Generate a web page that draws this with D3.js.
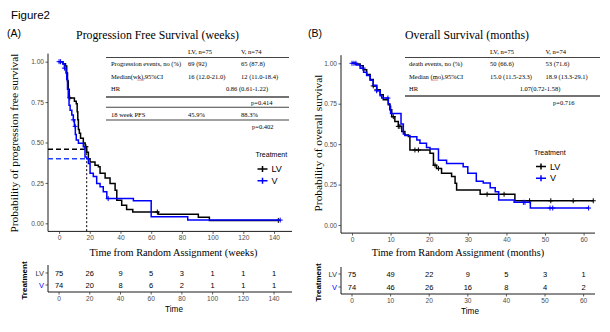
<!DOCTYPE html>
<html><head><meta charset="utf-8">
<script src="https://cdn.jsdelivr.net/npm/d3@7"></script>
<style>body{margin:0;background:#fff} svg{display:block}</style>
</head><body><svg id="c" width="610" height="332"></svg>
<script>
// ---------- DATA ----------
const pfsTicks = [0,20,40,60,80,100,120,140];
const osTicks = [0,10,20,30,40,50,60];
const survTicks = [0,0.25,0.5,0.75,1];
const groups = ["LV","V"];
const groupColors = ["#000000","#0000ff"];

// PFS Kaplan-Meier steps [weeks, survival]
const pfsLV = [[0,1],[2.5,0.987],[4.2,0.973],[5,0.93],[5.5,0.88],[6,0.83],[6.6,0.776],[10,0.755],[11.2,0.74],[11.8,0.69],[12.2,0.64],[12.6,0.58],[13.2,0.557],[14,0.527],[15.8,0.497],[17,0.474],[18,0.44],[19.1,0.40],[20.2,0.38],[23.4,0.36],[25.6,0.35],[26.7,0.31],[30,0.28],[33.2,0.246],[36.5,0.205],[37.6,0.143],[40.8,0.112],[44,0.085],[48,0.07],[64.6,0.056],[90.7,0.037],[97.9,0.018]];
const pfsLVEnd = 142.8;
const pfsV = [[0,1],[2.5,0.986],[3.5,0.96],[4.5,0.93],[5,0.89],[5.5,0.83],[6,0.78],[6.5,0.73],[7.2,0.70],[8.3,0.67],[9.3,0.64],[10,0.6],[10.6,0.55],[11.2,0.515],[12.6,0.495],[15.8,0.474],[16.9,0.41],[18,0.40],[19.1,0.37],[20.2,0.31],[22.3,0.29],[24.5,0.246],[26.7,0.226],[28.8,0.195],[31.1,0.153],[48.4,0.14],[60,0.04],[83.8,0.02]];
const pfsVEnd = 144;
const pfsLVCensor = [7, 17.5, 64, 142.8];
const pfsVCensor = [0, 1, 3.5, 9.3, 10.5, 32, 144];

// OS Kaplan-Meier steps [months, survival]
const osLV = [[0,1],[0.8,0.995],[2.1,0.985],[2.9,0.96],[3.8,0.93],[4.7,0.90],[5.5,0.86],[6.4,0.836],[7.3,0.805],[8.1,0.774],[9.4,0.743],[9.8,0.712],[10.3,0.67],[11.1,0.64],[12,0.61],[12.9,0.578],[13.7,0.557],[14.6,0.547],[15,0.464],[20.2,0.444],[21.1,0.37],[21.9,0.35],[23.2,0.32],[25.8,0.30],[26.7,0.258],[27.1,0.217],[33.2,0.19],[42.2,0.15]];
const osLVEnd = 62.5;
const osV = [[0,1],[1.2,0.99],[2.1,0.97],[3,0.945],[3.8,0.925],[4.7,0.895],[5.5,0.864],[6.4,0.83],[7.3,0.80],[7.7,0.785],[9.4,0.75],[9.8,0.735],[10,0.69],[12.7,0.625],[13.3,0.563],[13.7,0.553],[15,0.545],[16.8,0.525],[17.6,0.505],[19.3,0.48],[20.2,0.47],[22.4,0.40],[24.5,0.38],[28.8,0.36],[30,0.32],[32.2,0.27],[34,0.26],[35.8,0.23],[37.1,0.205],[38,0.155],[42,0.14],[46.2,0.105]];
const osVEnd = 61.3;
const osLVCensor = [5.5, 6.4, 10.7, 12, 12.4, 16.3, 17.2, 21.5, 22.4, 35, 39.4, 46, 51.5, 57.3, 62.5];
const osVCensor = [0, 0.5, 1, 2.9, 6.4, 9.3, 44.4, 44.8, 51.3, 52, 61.3];

// numbers at risk
const riskPfsLV = [75,26,9,5,3,1,1,1];
const riskPfsV = [74,20,8,6,2,1,1,1];
const riskOsLV = [75,49,22,9,5,3,1];
const riskOsV = [74,46,26,16,8,4,2];

// 18-week landmark
const landmarkWeek = 18;
const landmarkLV = 0.459;
const landmarkV = 0.40;

// tables
const tableHeader = ["LV, n=75","V, n=74"];
const pfsRows = [["Progression events, no (%)","69 (92)","65 (87.8)"],["Median(wk),95%CI","16 (12.0-21.0)","12 (11.0-18.4)"]];
const pfsHR = ["HR","0.86 (0.61-1.22)"];
const pfsP1 = "p=0.414";
const pfs18 = ["18 week PFS","45.9%","88.3%"];
const pfsP2 = "p=0.402";
const osRows = [["death events, no (%)","50 (66.6)","53 (71.6)"],["Median (mo),95%CI","15.0 (11.5-23.3)","18.9 (13.3-29.1)"]];
const osHR = ["HR","1.07(0.72-1.58)"];
const osP = "p=0.716";

// ---------- DRAW ----------
const svg = d3.select("#c");
const SERIF = "'Liberation Serif','Times New Roman',serif";
const SANS = "'Liberation Sans',Arial,sans-serif";
const fmt = d3.format(".2f");

function stepAt(data,t){let s=data[0][1];for(const d of data){if(d[0]<=t)s=d[1];else break;}return s;}

function txt(x,y,s,o={}){
  return svg.append("text").attr("x",x).attr("y",y).attr("dy","0.35em")
    .attr("font-family",o.ff||SANS).attr("font-size",o.fs||8)
    .attr("fill",o.fill||"#000").attr("text-anchor",o.anchor||"start")
    .attr("font-weight",o.fw||"normal").text(s);
}

svg.append("rect").attr("width",610).attr("height",332).attr("fill","#fff");
txt(11,15,"Figure2",{fs:11.5});

function panel(cfg){
  const x = d3.scaleLinear().domain(cfg.xdom).range(cfg.xr);
  const y = d3.scaleLinear().domain([-0.05,1.05]).range(cfg.yr);
  txt(cfg.labelX,33,cfg.label,{fs:10.5});
  txt(cfg.titleX,34.5,cfg.title,{ff:SERIF,fs:11.8,anchor:"middle"});
  // y axis
  const ya = svg.append("g").attr("transform",`translate(${cfg.xr[0]},0)`)
    .call(d3.axisLeft(y).tickValues(survTicks).tickFormat(fmt).tickSize(2.5).tickPadding(1.5));
  ya.select(".domain").attr("stroke","#000").attr("stroke-width",0.9).attr("d",`M0,${cfg.yr[0]}V${cfg.yr[1]}`);
  ya.selectAll(".tick line").attr("stroke","#333").attr("stroke-width",0.8);
  ya.selectAll("text").attr("font-family",SANS).attr("font-size",6.6).attr("fill","#4d4d4d");
  const xa = svg.append("g").attr("transform",`translate(0,${cfg.yr[0]})`)
    .call(d3.axisBottom(x).tickValues(cfg.ticks).tickSize(2.5).tickPadding(1.5));
  xa.select(".domain").attr("stroke","#000").attr("stroke-width",0.9).attr("d",`M${cfg.xr[0]},0H${cfg.xr[1]}`);
  xa.selectAll(".tick line").attr("stroke","#333").attr("stroke-width",0.8);
  xa.selectAll("text").attr("font-family",SANS).attr("font-size",6.6).attr("fill","#4d4d4d");
  // axis titles
  svg.append("text").attr("transform",`translate(${cfg.ylabX},${cfg.ylabY}) rotate(-90)`)
    .attr("text-anchor","middle").attr("dy","0.35em").attr("font-family",SERIF).attr("font-size",11.4).text(cfg.ylab);
  txt(cfg.xlabX,252,cfg.xlab,{ff:SERIF,fs:10.3,anchor:"middle"});

  if(cfg.landmark){
    const L = cfg.landmark;
    svg.append("line").attr("x1",cfg.xr[0]).attr("x2",x(L.t)).attr("y1",y(L.lv)).attr("y2",y(L.lv))
      .attr("stroke","#000").attr("stroke-width",1.5).attr("stroke-dasharray","5,3");
    svg.append("line").attr("x1",cfg.xr[0]).attr("x2",x(L.t)).attr("y1",y(L.v)).attr("y2",y(L.v))
      .attr("stroke","#1f3fff").attr("stroke-width",1.5).attr("stroke-dasharray","5,3");
    svg.append("line").attr("x1",x(L.t)).attr("x2",x(L.t)).attr("y1",y(L.lv)).attr("y2",cfg.yr[0])
      .attr("stroke","#000").attr("stroke-width",1).attr("stroke-dasharray","2,2");
  }

  const line = d3.line().x(d=>x(d[0])).y(d=>y(d[1])).curve(d3.curveStepAfter);
  cfg.series.forEach((s,i)=>{
    const pts = s.data.concat([[s.end, s.data[s.data.length-1][1]]]);
    svg.append("path").attr("d",line(pts)).attr("fill","none").attr("stroke",groupColors[i]).attr("stroke-width",1.5);
    s.censor.forEach(t=>{
      const cx=x(t), cy=y(stepAt(s.data,t));
      svg.append("path").attr("d",`M${cx-2.5},${cy}H${cx+2.5}M${cx},${cy-2.5}V${cy+2.5}`)
        .attr("stroke",groupColors[i]).attr("stroke-width",1);
    });
  });

  // legend
  txt(cfg.legX,cfg.legY,"Treatment",{fs:7});
  groups.forEach((g,i)=>{
    const ly = cfg.legY + 14 + i*11.7;
    const lx = cfg.legX + 2;
    svg.append("path").attr("d",`M${lx},${ly}H${lx+10}M${lx+5},${ly-3}V${ly+3}M${lx},${ly}`)
      .attr("stroke",groupColors[i]).attr("stroke-width",1.5);
    txt(lx+14,ly,g,{fs:9});
  });

  // risk table
  const r = cfg.risk;
  const rg = svg.append("g");
  rg.append("path").attr("d",`M${cfg.xr[0]},${r.top}V${r.base}H${cfg.xr[1]}`).attr("fill","none").attr("stroke","#000").attr("stroke-width",0.9);
  [r.lv, r.v].forEach((arr,i)=>{
    const ry = r.rows[i];
    rg.append("line").attr("x1",cfg.xr[0]-2.5).attr("x2",cfg.xr[0]).attr("y1",ry).attr("y2",ry).attr("stroke","#333").attr("stroke-width",0.8);
    txt(cfg.xr[0]-4,ry,groups[i],{fs:7.5,anchor:"end",fill:i?"#0000ff":"#333"});
    arr.forEach((n,j)=>txt(x(cfg.ticks[j]),ry,n,{fs:7.5,anchor:"middle"}));
  });
  cfg.ticks.forEach(t=>{
    rg.append("line").attr("x1",x(t)).attr("x2",x(t)).attr("y1",r.base).attr("y2",r.base+2.5).attr("stroke","#333").attr("stroke-width",0.8);
    txt(x(t),r.base+7,t,{fs:6.6,anchor:"middle",fill:"#4d4d4d"});
  });
  txt(cfg.timeX,r.base+17,"Time",{fs:8.2,anchor:"middle"});
  svg.append("text").attr("transform",`translate(${r.treatX},${(r.top+r.base)/2+2}) rotate(-90)`)
    .attr("text-anchor","middle").attr("dy","0.35em").attr("font-family",SANS).attr("font-size",8).attr("font-weight","bold").text("Treatment");
  return {x,y};
}

panel({
  xdom:[-7.2,151.7], xr:[48,292], yr:[231.4,53.6], ticks:pfsTicks,
  label:"(A)", labelX:7, title:"Progression Free Survival (weeks)", titleX:157.5,
  ylab:"Probability of progression free survival", ylabX:14, ylabY:143,
  xlab:"Time from Random Assignment (weeks)", xlabX:173.5,
  landmark:{t:landmarkWeek, lv:landmarkLV, v:landmarkV},
  series:[{data:pfsLV,end:pfsLVEnd,censor:pfsLVCensor},{data:pfsV,end:pfsVEnd,censor:pfsVCensor}],
  legX:255.5, legY:155,
  risk:{top:265,base:292,rows:[273,285],lv:riskPfsLV,v:riskPfsV,treatX:24},
  timeX:174
});
panel({
  xdom:[-2.85,62.95], xr:[341,595], yr:[233.1,55.2], ticks:osTicks,
  label:"(B)", labelX:308, title:"Overall Survival (months)", titleX:467,
  ylab:"Probability of overall survival", ylabX:318, ylabY:143,
  xlab:"Time from Random Assignment (months)", xlabX:458,
  series:[{data:osLV,end:osLVEnd,censor:osLVCensor},{data:osV,end:osVEnd,censor:osVCensor}],
  legX:534, legY:152.5,
  risk:{top:267,base:294,rows:[274,287],lv:riskOsLV,v:riskOsV,treatX:318},
  timeX:470
});

// ---------- TABLES ----------
function tline(x1,x2,yv,w){svg.append("line").attr("x1",x1).attr("x2",x2).attr("y1",yv).attr("y2",yv).attr("stroke","#444").attr("stroke-width",w);}
const TF = {ff:SERIF,fs:6.5};
// PFS table
(function(){
  const x0=106,x1=289,lx=111,c1=188,c2=241;
  txt(c1,52,tableHeader[0],TF); txt(c2,52,tableHeader[1],TF);
  tline(x0,x1,57.5,1.2);
  pfsRows.forEach((r,i)=>{const yy=64+i*12.5; txt(lx,yy,r[0],TF); txt(c1,yy,r[1],TF); txt(c2,yy,r[2],TF);});
  txt(lx,89,pfsHR[0],TF); txt(247,89,pfsHR[1],Object.assign({anchor:"middle"},TF));
  tline(x0,x1,97,1.3);
  txt(251,103,pfsP1,TF);
  tline(x0,x1,107.3,1.1);
  txt(lx,115,pfs18[0],TF); txt(c1,115,pfs18[1],TF); txt(c2,115,pfs18[2],TF);
  tline(x0,x1,120,1.1);
  txt(252,127,pfsP2,TF);
  // spell-check squiggle under "wk"
  svg.append("path").attr("d","M137,80.5l1,-0.8l1,0.8l1,-0.8l1,0.8l1,-0.8l1,0.8l1,-0.8").attr("fill","none").attr("stroke","#e05050").attr("stroke-width",0.6);
})();
// OS table
(function(){
  const x0=405,x1=600,lx=409,c1=490,c2=545.5;
  txt(c1,52,tableHeader[0],TF); txt(c2,52,tableHeader[1],TF);
  tline(x0,x1,57.5,1.2);
  osRows.forEach((r,i)=>{const yy=64+i*12.5; txt(lx,yy,r[0],TF); txt(c1,yy,r[1],TF); txt(c2,yy,r[2],TF);});
  txt(lx,89,osHR[0],TF); txt(540,89,osHR[1],Object.assign({anchor:"middle"},TF));
  tline(x0,x1,96,1.3);
  txt(553,103,osP,TF);
  svg.append("path").attr("d","M431,80.5l1,-0.8l1,0.8l1,-0.8l1,0.8l1,-0.8l1,0.8l1,-0.8").attr("fill","none").attr("stroke","#e05050").attr("stroke-width",0.6);
})();
</script></body></html>
